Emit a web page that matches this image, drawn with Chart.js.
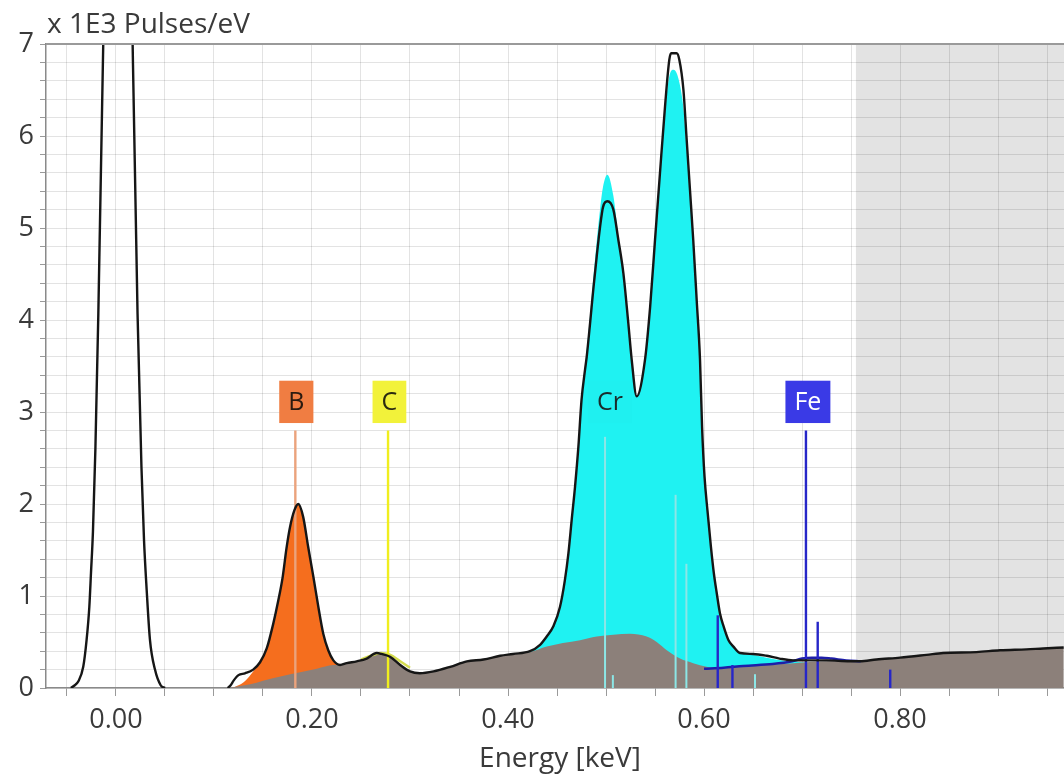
<!DOCTYPE html>
<html><head><meta charset="utf-8">
<script src="https://cdn.jsdelivr.net/npm/chart.js@4.4.0/dist/chart.umd.min.js"></script>
<style>html,body{margin:0;padding:0;background:#fff;overflow:hidden}canvas{display:block}</style>
</head><body>
<canvas id="c" width="1064" height="776"></canvas>
<script>
// ---- measured spectrum (black line), energy keV / counts x1E3 pulses/eV
const spectrumEnergy = [-0.046,-0.042,-0.0385,-0.0334,-0.030,-0.0272,-0.0255,-0.0235,-0.021,-0.018,-0.013,-0.008,-0.003,0.002,0.007,0.012,0.017,0.022,0.026,0.0286,0.0313,0.0347,0.0398,0.0456,0.050,0.080,
 0.114,0.117,0.120,0.125,0.1316,0.140,0.147,0.1538,0.1605,0.1656,0.170,0.174,0.1776,0.182,0.186,0.191,0.196,0.2014,0.2065,0.2115,0.2166,0.2218,0.2286,0.2354,0.2456,0.2558,0.266,0.271,0.2796,0.290,0.300,0.310,0.324,0.341,0.358,0.375,0.392,0.405,0.4224,0.4327,0.4395,0.4463,0.453,0.458,0.4616,0.465,0.4684,0.4718,0.475,0.4786,0.4803,0.4837,0.487,0.4905,0.4939,0.497,0.5014,0.5075,0.5126,0.5177,0.5228,0.5262,0.5313,0.5398,0.545,0.550,0.555,0.5602,0.5646,0.5665,0.5720,0.5748,0.579,0.5823,0.5857,0.589,0.5925,0.5959,0.598,0.6005,0.6035,0.607,0.610,0.613,0.6163,0.620,0.625,0.630,0.6367,0.650,0.664,0.677,0.691,0.725,0.749,0.759,0.776,0.800,0.827,0.844,0.878,0.902,0.929,0.946,0.967];
const spectrumCounts = [0,0.03,0.07,0.23,0.52,0.88,1.25,1.7,2.6,4.07,7.0,10.3,13.0,14.0,13.0,10.3,7.0,4.07,2.4,1.61,1.07,0.52,0.2,0.03,0,null,
 0,0.03,0.08,0.14,0.16,0.20,0.28,0.43,0.70,0.95,1.20,1.52,1.75,1.93,2.00,1.86,1.54,1.21,0.88,0.59,0.41,0.30,0.25,0.27,0.29,0.32,0.38,0.37,0.34,0.25,0.18,0.16,0.18,0.23,0.29,0.31,0.35,0.37,0.40,0.47,0.56,0.67,0.88,1.17,1.46,1.83,2.19,2.62,3.13,3.46,3.60,3.96,4.33,4.69,5.01,5.23,5.29,5.20,4.87,4.51,3.96,3.57,3.17,3.57,4.14,4.87,5.59,6.32,6.83,6.90,6.90,6.83,6.50,5.96,5.41,4.87,4.22,3.57,2.84,2.30,1.93,1.54,1.25,1.03,0.81,0.67,0.52,0.45,0.38,0.37,0.35,0.32,0.30,0.30,0.29,0.29,0.31,0.33,0.36,0.38,0.39,0.41,0.42,0.43,0.44];

// ---- background (grey fill)
const backgroundEnergy = [0.114,0.125,0.137,0.150,0.170,0.188,0.205,0.2218,0.2286,0.2354,0.2456,0.2558,0.266,0.271,0.2796,0.290,0.300,0.310,0.324,0.341,0.358,0.375,0.392,0.405,0.4224,0.4395,0.456,0.4735,0.4905,0.5075,0.5245,0.5415,0.5517,0.562,0.5755,0.589,0.6027,0.6163,0.6367,0.660,0.691,0.725,0.749,0.759,0.776,0.800,0.827,0.844,0.878,0.902,0.929,0.946,0.967];
const backgroundCounts = [0,0.02,0.04,0.08,0.13,0.17,0.21,0.25,0.25,0.27,0.29,0.32,0.38,0.37,0.34,0.25,0.18,0.16,0.18,0.23,0.29,0.31,0.35,0.37,0.39,0.45,0.49,0.52,0.56,0.58,0.59,0.56,0.50,0.41,0.32,0.27,0.23,0.21,0.24,0.25,0.27,0.29,0.29,0.29,0.31,0.33,0.36,0.38,0.39,0.41,0.42,0.43,0.44];

// ---- B fit (orange fill)
const boronEnergy = [0.118,0.125,0.132,0.140,0.147,0.1538,0.1605,0.1656,0.170,0.174,0.1776,0.182,0.186,0.191,0.196,0.2014,0.2065,0.2115,0.2166,0.2218,0.228,0.235,0.240];
const boronCounts = [0,0.03,0.08,0.18,0.28,0.43,0.70,0.95,1.20,1.52,1.75,1.93,2.00,1.86,1.54,1.21,0.88,0.59,0.41,0.30,0.24,0.20,0];

// ---- Cr fit (cyan fill)
const chromiumEnergy = [0.405,0.4224,0.4327,0.4395,0.4463,0.453,0.458,0.4616,0.465,0.4684,0.4718,0.475,0.4786,0.4837,0.487,0.4905,0.4939,0.497,0.5014,0.5075,0.5126,0.5177,0.5228,0.5262,0.5313,0.5398,0.545,0.550,0.555,0.5602,0.5646,0.569,0.574,0.579,0.5823,0.5857,0.589,0.5925,0.5959,0.598,0.6005,0.6035,0.607,0.610,0.613,0.6163,0.620,0.625,0.630,0.6367,0.650,0.664,0.680,0.700,0.720,0.740,0.760,0.770];
const chromiumCounts = [0.36,0.40,0.47,0.56,0.67,0.88,1.17,1.46,1.83,2.19,2.62,3.13,3.50,4.05,4.45,4.85,5.20,5.45,5.58,5.35,4.90,4.45,3.90,3.52,3.17,3.57,4.14,4.87,5.55,6.25,6.65,6.72,6.62,6.30,5.86,5.35,4.80,4.15,3.50,2.84,2.30,1.93,1.54,1.25,1.03,0.81,0.67,0.52,0.45,0.38,0.36,0.33,0.30,0.28,0.27,0.26,0.25,0];

// ---- C fit (yellow line) and Fe fit (blue line)
const carbonFitEnergy = [0.250,0.260,0.270,0.280,0.290,0.300];
const carbonFitCounts = [0.31,0.35,0.38,0.36,0.29,0.22];
const ironFitEnergy = [0.600,0.620,0.640,0.670,0.690,0.700,0.710,0.720,0.730,0.745,0.760];
const ironFitCounts = [0.21,0.22,0.24,0.26,0.29,0.32,0.33,0.33,0.32,0.30,0.29];

// ---- element line markers
const markerElement = ['B','C','Cr','Cr','Cr','Cr','Cr','Fe','Fe','Fe','Fe','Fe'];
const markerEnergy  = [0.183,0.2776,0.499,0.507,0.571,0.582,0.652,0.614,0.629,0.704,0.716,0.790];
const markerHeight  = [2.80,2.80,2.73,0.14,2.10,1.35,0.15,0.79,0.25,2.80,0.72,0.20];

// ---- element labels
const labelText   = ['B','C','Cr','Fe'];
const labelEnergy = [0.184,0.279,0.504,0.706];
const labelBox    = ['#f07d42','#f2f23a','#1ff0f0','#3a3ae6'];
const labelInk    = ['#2a1a10','#2a2a10','#1a2a2a','#ffffff'];
const markerColor = {B:'#eba37c', C:'#f0ee1e', Cr:'#8ce6e6', Fe:'#2626c8'};

// ---- axes
const xTickValues = [-0.05,0,0.05,0.10,0.15,0.20,0.25,0.30,0.35,0.40,0.45,0.50,0.55,0.60,0.65,0.70,0.75,0.80,0.85,0.90,0.95];
const xLabelValues = [0,0.2,0.4,0.6,0.8];
const yLabelValues = [0,1,2,3,4,5,6,7];
const xMin = -0.0714, xMax = 0.9673, yMin = 0, yMax = 7;
const shadedFrom = 0.755;

const FONT = '"Open Sans", "Noto Sans", sans-serif';
const pts = (xs, ys) => xs.map((x, i) => ({x: x, y: ys[i]}));

const datasets = [];
datasets.push({label:'spectrum', data: pts(spectrumEnergy, spectrumCounts), borderColor:'#161616', borderWidth:2.4, pointRadius:0, fill:false, order:0, cubicInterpolationMode:'monotone'});
markerEnergy.forEach((e, i) => {
  datasets.push({label:'line '+markerElement[i], data:[{x:e,y:0},{x:e,y:markerHeight[i]}], borderColor: markerColor[markerElement[i]], borderWidth: markerElement[i]==='Cr'?2:2.4, pointRadius:0, fill:false, order:2});
});
datasets.push({label:'C fit', data: pts(carbonFitEnergy, carbonFitCounts), borderColor:'#d4dc50', borderWidth:2.5, pointRadius:0, fill:false, order:3, cubicInterpolationMode:'monotone'});
datasets.push({label:'Fe fit', data: pts(ironFitEnergy, ironFitCounts), borderColor:'#1e1ea8', borderWidth:2.5, pointRadius:0, fill:false, order:3, cubicInterpolationMode:'monotone'});
datasets.push({label:'background', data: pts(backgroundEnergy, backgroundCounts), borderWidth:0, borderColor:'rgba(0,0,0,0)', backgroundColor:'#8c807a', pointRadius:0, fill:'origin', order:5, cubicInterpolationMode:'monotone'});
datasets.push({label:'Cr', data: pts(chromiumEnergy, chromiumCounts), borderWidth:0, borderColor:'rgba(0,0,0,0)', backgroundColor:'#1ff2f2', pointRadius:0, fill:'origin', order:6, cubicInterpolationMode:'monotone'});
datasets.push({label:'B', data: pts(boronEnergy, boronCounts), borderWidth:0, borderColor:'rgba(0,0,0,0)', backgroundColor:'#f56e1e', pointRadius:0, fill:'origin', order:7, cubicInterpolationMode:'monotone'});

const decor = {
  id: 'decor',
  beforeDraw(chart) {
    const {ctx, chartArea: a, scales: {x}} = chart;
    ctx.save();
    ctx.fillStyle = '#ffffff';
    ctx.fillRect(0, 0, chart.width, chart.height);
    const gx = x.getPixelForValue(shadedFrom);
    ctx.fillStyle = '#e3e3e3';
    ctx.fillRect(gx, a.top, a.right - gx, a.bottom - a.top);
    ctx.restore();
  },
  afterDatasetsDraw(chart) {
    const {ctx, scales: {x, y}} = chart;
    ctx.save();
    ctx.font = '25px ' + FONT;
    ctx.textAlign = 'center';
    ctx.textBaseline = 'middle';
    labelText.forEach((t, i) => {
      const cx = x.getPixelForValue(labelEnergy[i]);
      const top = y.getPixelForValue(3.34), bot = y.getPixelForValue(2.88);
      const w = ctx.measureText(t).width + 18;
      ctx.fillStyle = labelBox[i];
      ctx.fillRect(cx - w/2, top, w, bot - top);
      ctx.fillStyle = labelInk[i];
      ctx.fillText(t, cx, (top + bot)/2 + 1);
    });
    ctx.restore();
  },
  afterDraw(chart) {
    const {ctx, chartArea: a} = chart;
    ctx.save();
    ctx.strokeStyle = '#9a9a9a';
    ctx.lineWidth = 2;
    ctx.beginPath(); ctx.moveTo(a.left, a.top); ctx.lineTo(a.right, a.top); ctx.stroke();
    ctx.fillStyle = '#3a3a3a';
    ctx.font = '28px ' + FONT;
    ctx.textBaseline = 'middle';
    ctx.textAlign = 'left';
    ctx.fillText('x 1E3 Pulses/eV', 47, 25);
    ctx.textAlign = 'center';
    ctx.fillText('Energy [keV]', 560, 759);
    ctx.restore();
  }
};

new Chart(document.getElementById('c'), {
  type: 'line',
  data: { datasets },
  plugins: [decor],
  options: {
    responsive: false,
    animation: false,
    devicePixelRatio: 1,
    layout: { padding: { top: 44, right: 0, left: 0, bottom: 0 } },
    plugins: { legend: { display: false }, tooltip: { enabled: false } },
    elements: { line: { tension: 0 } },
    scales: {
      x: {
        type: 'linear', min: xMin, max: xMax,
        afterBuildTicks: s => { s.ticks = xTickValues.map(v => ({value: v})); },
        afterFit: s => { s.height = 88; },
        grid: { color: 'rgba(0,0,0,0.11)', lineWidth: 1, tickLength: 8, tickColor: '#9a9a9a', drawTicks: true },
        border: { display: true, color: '#8a8a8a', width: 1.5 },
        ticks: {
          autoSkip: false, maxRotation: 0, padding: 8, color: '#3a3a3a',
          font: { family: FONT, size: 27 },
          callback: v => xLabelValues.some(l => Math.abs(l - v) < 1e-6) ? (Math.abs(v) < 1e-9 ? 0 : v).toFixed(2) : ''
        }
      },
      y: {
        type: 'linear', min: yMin, max: yMax,
        afterFit: s => { s.width = 46; },
        grid: { color: 'rgba(0,0,0,0.11)', lineWidth: 1, tickLength: 6, tickColor: '#9a9a9a' },
        border: { display: true, color: '#8a8a8a', width: 1.5 },
        ticks: {
          stepSize: 0.2, autoSkip: false, padding: 6, color: '#3a3a3a',
          font: { family: FONT, size: 27 },
          callback: v => yLabelValues.some(l => Math.abs(l - v) < 1e-6) ? String(Math.round(v)) : ''
        }
      }
    }
  }
});
</script>
</body></html>
